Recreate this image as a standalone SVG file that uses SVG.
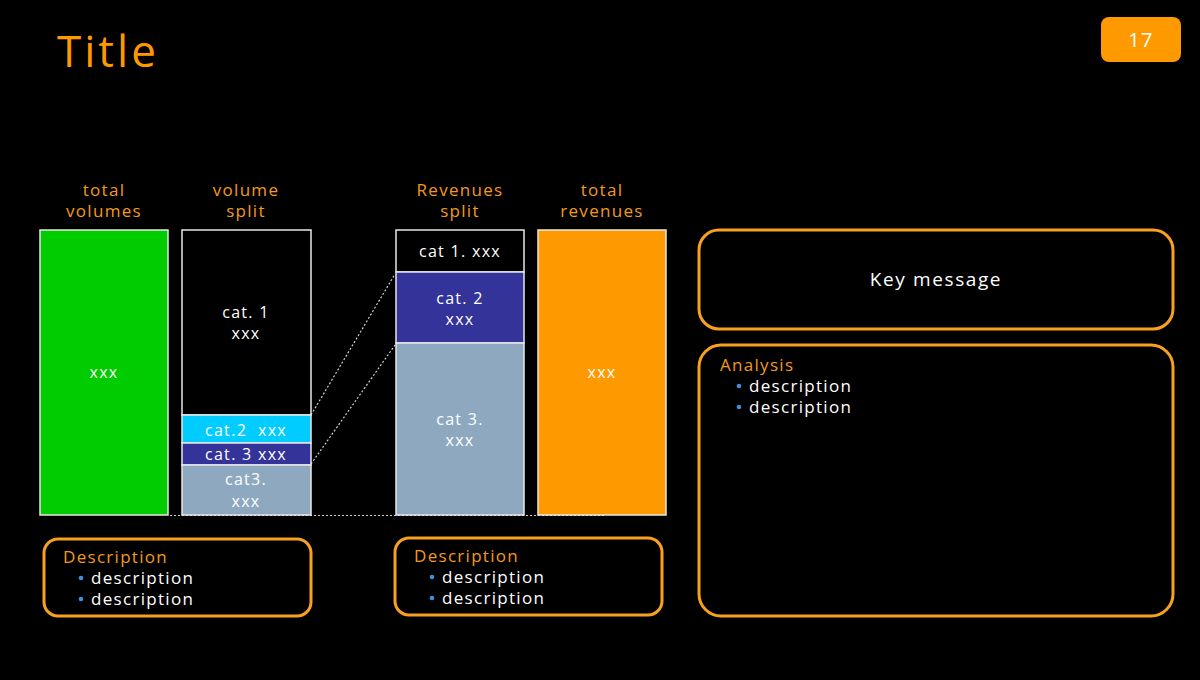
<svg xmlns="http://www.w3.org/2000/svg" width="1200" height="680" viewBox="0 0 1200 680">
<style>
text{font-family:"Open Sans","Liberation Sans",Arial,sans-serif;letter-spacing:1.3px}
.hdr{fill:#F29A1E;font-size:17px;text-anchor:middle}
.w{fill:#fff;font-size:16px;text-anchor:middle}
.bar{stroke:#e8e8e8;stroke-width:1.5}
.box{fill:#000;stroke:#F7A11E;stroke-width:3}
.bt{fill:#F29A1E;font-size:17px}
.dt{fill:#fff;font-size:17px}
.bl{fill:#3D8FE0}
.dot{stroke:#d0d0d0;stroke-width:1.2;stroke-dasharray:2 2;fill:none}
</style>
<rect width="1200" height="680" fill="#000"/>
<text x="57" y="67" font-size="44" fill="#FF9900" style="letter-spacing:3px">Title</text>
<g id="badge">
<rect x="1101" y="17" width="80" height="45" rx="8" fill="#FF9900"/>
<text x="1141" y="47" font-size="20" fill="#fff" text-anchor="middle">17</text>
</g>
<g id="headers">
<text class="hdr" x="104" y="196">total</text><text class="hdr" x="104" y="217">volumes</text>
<text class="hdr" x="246" y="196">volume</text><text class="hdr" x="246" y="217">split</text>
<text class="hdr" x="460" y="196">Revenues</text><text class="hdr" x="460" y="217">split</text>
<text class="hdr" x="602" y="196">total</text><text class="hdr" x="602" y="217">revenues</text>
</g>
<g id="connectors">
<line class="dot" x1="170" y1="515.5" x2="605" y2="515.5"/>
<line class="dot" x1="311" y1="415" x2="395" y2="274"/>
<line class="dot" x1="311" y1="464" x2="395" y2="345"/>
</g>
<g id="total-volumes">
<rect class="bar" x="40" y="230" width="128" height="285" fill="#00CC00"/>
<text class="w" x="104" y="378">xxx</text>
</g>
<g id="volume-split">
<rect class="bar" x="182" y="230" width="129" height="185" fill="#000"/>
<text class="w" x="246" y="318">cat. 1</text><text class="w" x="246" y="339">xxx</text>
<rect class="bar" x="182" y="415" width="129" height="28" fill="#00CCFF"/>
<text class="w" x="246" y="436" xml:space="preserve">cat.2  xxx</text>
<rect class="bar" x="182" y="443" width="129" height="22" fill="#333399"/>
<text class="w" x="246" y="460">cat. 3 xxx</text>
<rect class="bar" x="182" y="465" width="129" height="50" fill="#8EA9BF"/>
<text class="w" x="246" y="485">cat3.</text><text class="w" x="246" y="507">xxx</text>
</g>
<g id="revenues-split">
<rect class="bar" x="396" y="230" width="128" height="42" fill="#000"/>
<text class="w" x="460" y="257">cat 1. xxx</text>
<rect class="bar" x="396" y="272" width="128" height="71" fill="#333399"/>
<text class="w" x="460" y="304">cat. 2</text><text class="w" x="460" y="325">xxx</text>
<rect class="bar" x="396" y="343" width="128" height="172" fill="#8EA9BF"/>
<text class="w" x="460" y="425">cat 3.</text><text class="w" x="460" y="446">xxx</text>
</g>
<g id="total-revenues">
<rect class="bar" x="538" y="230" width="128" height="285" fill="#FF9900"/>
<text class="w" x="602" y="378">xxx</text>
</g>
<g id="desc-left">
<rect class="box" x="44" y="539" width="267" height="77" rx="14"/>
<text class="bt" x="63" y="563">Description</text>
<circle class="bl" cx="81" cy="578" r="2.3"/><text class="dt" x="91" y="584">description</text>
<circle class="bl" cx="81" cy="599" r="2.3"/><text class="dt" x="91" y="605">description</text>
</g>
<g id="desc-right">
<rect class="box" x="395" y="538" width="267" height="77" rx="14"/>
<text class="bt" x="414" y="562">Description</text>
<circle class="bl" cx="432" cy="577" r="2.3"/><text class="dt" x="442" y="583">description</text>
<circle class="bl" cx="432" cy="598" r="2.3"/><text class="dt" x="442" y="604">description</text>
</g>
<g id="key-message">
<rect class="box" x="699" y="230" width="474" height="99" rx="20"/>
<text x="936" y="286" font-size="19" fill="#fff" text-anchor="middle" style="letter-spacing:1.6px">Key message</text>
</g>
<g id="analysis">
<rect class="box" x="699" y="345" width="474" height="271" rx="22"/>
<text class="bt" x="720" y="371">Analysis</text>
<circle class="bl" cx="739" cy="386" r="2.3"/><text class="dt" x="749" y="392">description</text>
<circle class="bl" cx="739" cy="407" r="2.3"/><text class="dt" x="749" y="413">description</text>
</g>
</svg>
